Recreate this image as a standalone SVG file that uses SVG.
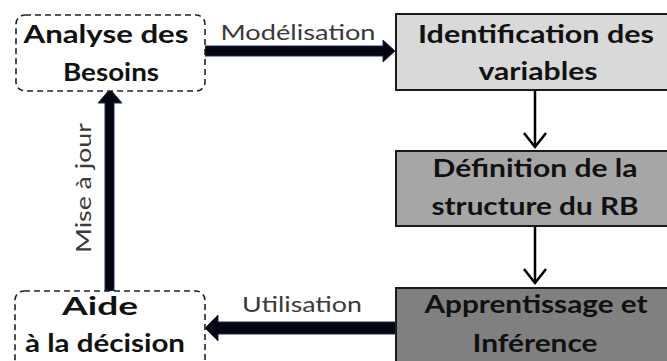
<svg xmlns="http://www.w3.org/2000/svg" width="667" height="361" viewBox="0 0 667 361">
<style>
.dash{fill:#fff;stroke:#222;stroke-width:1.6;stroke-dasharray:6 4}
.solid{stroke:#1a1a1a;stroke-width:2}
.t{font-family:Lato,"Open Sans","Liberation Sans",sans-serif;font-weight:bold;font-size:24px;fill:#111;text-anchor:middle}
.lab{font-family:Lato,"Open Sans","Liberation Sans",sans-serif;font-size:21px;fill:#3a3a3a;text-anchor:middle}
.thin{stroke:#000;stroke-width:2.5;fill:none}
.thick{fill:#050510;stroke:#1c2b5e;stroke-width:1}
</style>
<g id="connectors">
<polygon class="thick" points="205,46 383,46 383,40 395,51 383,62 383,56 205,56"/>
<text class="lab" x="298" y="40" textLength="155" lengthAdjust="spacingAndGlyphs">Modélisation</text>
<polygon class="thick" points="396,322 218,322 218,315 205,328 218,341 218,334 396,334"/>
<text class="lab" x="302" y="312" textLength="120" lengthAdjust="spacingAndGlyphs">Utilisation</text>
<polygon class="thick" points="105,291 105,103 98,103 110,89 122,103 114,103 114,291"/>
<text class="lab" transform="translate(91,188) rotate(-90)" x="0" y="0" textLength="130" lengthAdjust="spacingAndGlyphs">Mise à jour</text>
<line class="thin" x1="535" y1="90" x2="535" y2="146"/>
<polyline class="thin" points="524,133 535,147 546,133"/>
<line class="thin" x1="535" y1="226" x2="535" y2="282"/>
<polyline class="thin" points="524,269 535,283 546,269"/>
</g>
<g id="n1">
<rect class="dash" x="16" y="15" width="189" height="76" rx="9"/>
<text class="t" x="106" y="43" textLength="165" lengthAdjust="spacingAndGlyphs">Analyse des</text>
<text class="t" x="111" y="81" textLength="96" lengthAdjust="spacingAndGlyphs">Besoins</text>
</g>
<g id="n2">
<rect class="solid" x="396" y="14" width="280" height="76" fill="#d9d9d9"/>
<text class="t" x="536" y="43" textLength="236" lengthAdjust="spacingAndGlyphs">Identification des</text>
<text class="t" x="538" y="80" textLength="119" lengthAdjust="spacingAndGlyphs">variables</text>
</g>
<g id="n3">
<rect class="solid" x="396" y="151" width="280" height="75" fill="#a6a6a6"/>
<text class="t" x="535" y="177" textLength="205" lengthAdjust="spacingAndGlyphs">Définition de la</text>
<text class="t" x="535" y="215" textLength="207" lengthAdjust="spacingAndGlyphs">structure du RB</text>
</g>
<g id="n4">
<rect class="solid" x="396" y="288" width="280" height="82" fill="#808080"/>
<text class="t" x="536" y="313" textLength="223" lengthAdjust="spacingAndGlyphs">Apprentissage et</text>
<text class="t" x="535" y="352" textLength="125" lengthAdjust="spacingAndGlyphs">Inférence</text>
</g>
<g id="n5">
<rect class="dash" x="15" y="291" width="190" height="80" rx="9"/>
<text class="t" x="100" y="315" textLength="76" lengthAdjust="spacingAndGlyphs">Aide</text>
<text class="t" x="105" y="352" textLength="160" lengthAdjust="spacingAndGlyphs">à la décision</text>
</g>
</svg>
